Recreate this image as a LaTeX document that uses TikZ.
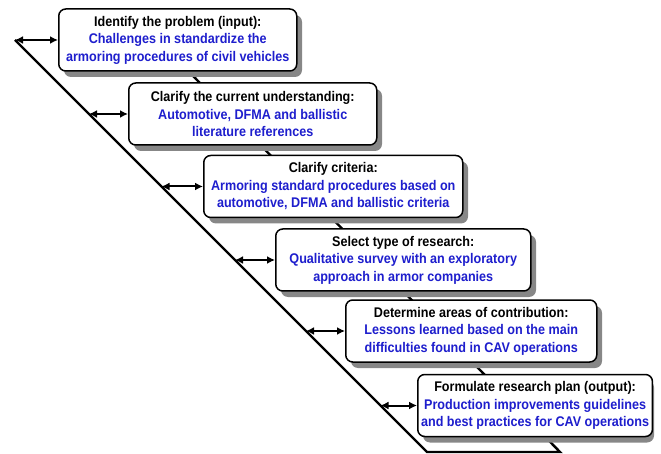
\documentclass[tikz,border=0pt]{standalone}
\usepackage{fontspec}
\setmainfont{Liberation Sans}[FakeStretch=0.9]
\usepackage{xcolor}
\usetikzlibrary{shapes.geometric, arrows.meta, positioning}
\definecolor{stepblue}{RGB}{30,30,205}
\definecolor{shadowgray}{RGB}{135,135,135}
\tikzset{
  linkarrow/.style={{Latex[length=8pt,width=8pt]}-{Latex[length=8pt,width=8pt]}, line width=2pt},
  rail/.style={line width=2.4pt, line join=miter},
  stage/.style={rectangle, rounded corners=7pt, draw=black, line width=1.5pt, fill=white, minimum height=62pt, align=center, anchor=west, font=\bfseries\fontsize{14}{17.5}\selectfont},
  stageshadow/.style={fill=shadowgray, rounded corners=7pt}
}

\begin{document}
\begin{tikzpicture}[x=1pt, y=-1pt]
  \useasboundingbox (0,0) rectangle (661,454);

  % Staircase rail, behind the steps
  \coordinate (railtop) at (15,40);
  \coordinate (railbot) at (427,452);
  \coordinate (railend) at (560,452);
  \coordinate (railback) at (158,40);
  \draw[rail] (railtop) -- (railbot) -- (railend) -- (railback);

  % Shadows of the steps
  \fill[stageshadow] (64,15) rectangle ++(238,62);
  \fill[stageshadow] (134,89) rectangle ++(248,62);
  \fill[stageshadow] (209,161.5) rectangle ++(259,62);
  \fill[stageshadow] (281,235) rectangle ++(255,62);
  \fill[stageshadow] (351,306) rectangle ++(251,62);
  \fill[stageshadow] (423,380.5) rectangle ++(231,62);

  % Steps
  \node (identify) [stage, minimum width=238pt] at (58,40)
    {Identify the problem (input):\\ \color{stepblue}Challenges in standardize the\\ \color{stepblue}armoring procedures of civil vehicles};
  \node (clarify) [stage, minimum width=248pt] at (128,114)
    {Clarify the current understanding:\\ \color{stepblue}Automotive, DFMA and ballistic\\ \color{stepblue}literature references};
  \node (criteria) [stage, minimum width=259pt] at (203,186.5)
    {Clarify criteria:\\ \color{stepblue}Armoring standard procedures based on\\ \color{stepblue}automotive, DFMA and ballistic criteria};
  \node (select) [stage, minimum width=255pt] at (275,260)
    {Select type of research:\\ \color{stepblue}Qualitative survey with an exploratory\\ \color{stepblue}approach in armor companies};
  \node (determine) [stage, minimum width=251pt] at (345,331)
    {Determine areas of contribution:\\ \color{stepblue}Lessons learned based on the main\\ \color{stepblue}difficulties found in CAV operations};
  \node (formulate) [stage, minimum width=231pt] at (417,405.5)
    {Formulate research plan (output):\\ \color{stepblue}Production improvements guidelines\\ \color{stepblue}and best practices for CAV operations};

  % Arrows from the rail to each step
  \coordinate (h1) at (identify.west -| railtop);
  \coordinate (h2) at (clarify.west -| railtop);
  \coordinate (h3) at (criteria.west -| railtop);
  \coordinate (h4) at (select.west -| railtop);
  \coordinate (h5) at (determine.west -| railtop);
  \coordinate (h6) at (formulate.west -| railtop);
  \draw[linkarrow] (intersection of railtop--railbot and h1--identify.west) -- (identify.west);
  \draw[linkarrow] (intersection of railtop--railbot and h2--clarify.west) -- (clarify.west);
  \draw[linkarrow] (intersection of railtop--railbot and h3--criteria.west) -- (criteria.west);
  \draw[linkarrow] (intersection of railtop--railbot and h4--select.west) -- (select.west);
  \draw[linkarrow] (intersection of railtop--railbot and h5--determine.west) -- (determine.west);
  \draw[linkarrow] (intersection of railtop--railbot and h6--formulate.west) -- (formulate.west);

\end{tikzpicture}
\end{document}
